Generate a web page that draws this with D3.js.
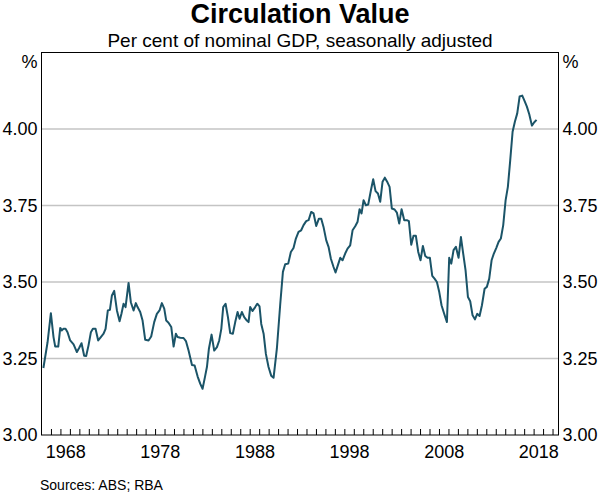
<!DOCTYPE html>
<html>
<head>
<meta charset="utf-8">
<script src="https://cdn.jsdelivr.net/npm/d3@7"></script>
<style>
  html, body { margin: 0; padding: 0; background: #fff; }
  svg { display: block; }
  text { font-family: "Liberation Sans", Arial, sans-serif; fill: #000; }
</style>
</head>
<body>
<svg id="chart" width="600" height="493"></svg>
<script>
// ---- Data ----
const dates = [
  1966.2, 1966.64, 1966.99, 1967.27, 1967.45, 1967.77, 1967.98, 1968.15, 1968.33, 1968.54,
  1968.75, 1969.03, 1969.39, 1969.74, 1969.99, 1970.23, 1970.51, 1970.72, 1970.97, 1971.22,
  1971.43, 1971.71, 1971.99, 1972.27, 1972.56, 1972.77, 1973.01, 1973.23, 1973.44, 1973.68,
  1973.97, 1974.25, 1974.46, 1974.67, 1974.88, 1975.2, 1975.44, 1975.73, 1975.97, 1976.15,
  1976.43, 1976.68, 1976.96, 1977.31, 1977.59, 1977.91, 1978.19, 1978.47, 1978.72, 1978.97,
  1979.18, 1979.42, 1979.71, 1979.96, 1980.2, 1980.38, 1980.66, 1981.01, 1981.26, 1981.54,
  1981.9, 1982.18, 1982.5, 1982.78, 1983.02, 1983.27, 1983.48, 1983.69, 1983.97, 1984.25,
  1984.54, 1984.78, 1985.0, 1985.2, 1985.45, 1985.7, 1985.94, 1986.22, 1986.47, 1986.72,
  1986.93, 1987.17, 1987.42, 1987.7, 1987.88, 1988.05, 1988.3, 1988.58, 1988.8, 1989.04,
  1989.22, 1989.47, 1989.71, 1989.99, 1990.27, 1990.52, 1990.87, 1991.23, 1991.51, 1991.75,
  1992.07, 1992.35, 1992.63, 1992.88, 1993.16, 1993.44, 1993.69, 1993.97, 1994.22, 1994.5,
  1994.75, 1995.03, 1995.31, 1995.56, 1995.8, 1996.09, 1996.33, 1996.58, 1996.86, 1997.07,
  1997.32, 1997.57, 1997.81, 1998.09, 1998.34, 1998.62, 1998.87, 1999.15, 1999.4, 1999.61,
  1999.82, 2000.03, 2000.28, 2000.52, 2000.81, 2001.05, 2001.3, 2001.55, 2001.79, 2002.04,
  2002.28, 2002.57, 2002.78, 2003.02, 2003.31, 2003.55, 2003.8, 2004.05, 2004.33, 2004.61,
  2004.82, 2005.07, 2005.31, 2005.56, 2005.81, 2006.05, 2006.3, 2006.55, 2006.79, 2007.04,
  2007.29, 2007.53, 2007.78, 2008.03, 2008.27, 2008.55, 2008.84, 2009.08, 2009.3, 2009.54,
  2009.79, 2010.07, 2010.32, 2010.56, 2010.81, 2011.06, 2011.3, 2011.55, 2011.8, 2012.04,
  2012.29, 2012.54, 2012.82, 2013.06, 2013.31, 2013.56, 2013.8, 2014.05, 2014.3, 2014.54,
  2014.79, 2015.04, 2015.28, 2015.53, 2015.78, 2016.02, 2016.27, 2016.52, 2016.8, 2017.04,
  2017.29, 2017.54, 2017.82, 2018.07, 2018.31
];
const values = [
  3.219, 3.303, 3.398, 3.320, 3.289, 3.289, 3.350, 3.342, 3.347, 3.347,
  3.336, 3.309, 3.296, 3.271, 3.285, 3.300, 3.259, 3.258, 3.293, 3.336,
  3.347, 3.347, 3.309, 3.320, 3.331, 3.347, 3.407, 3.409, 3.456, 3.471,
  3.407, 3.372, 3.398, 3.429, 3.418, 3.497, 3.434, 3.407, 3.431, 3.418,
  3.402, 3.374, 3.311, 3.309, 3.322, 3.369, 3.396, 3.407, 3.431, 3.413,
  3.374, 3.367, 3.353, 3.289, 3.331, 3.320, 3.318, 3.317, 3.307, 3.276,
  3.229, 3.227, 3.191, 3.167, 3.151, 3.189, 3.222, 3.282, 3.328, 3.276,
  3.287, 3.309, 3.347, 3.418, 3.429, 3.385, 3.333, 3.331, 3.369, 3.402,
  3.380, 3.402, 3.385, 3.374, 3.369, 3.418, 3.405, 3.418, 3.429, 3.420,
  3.363, 3.331, 3.265, 3.222, 3.194, 3.187, 3.282, 3.429, 3.533, 3.558,
  3.560, 3.598, 3.611, 3.642, 3.664, 3.669, 3.686, 3.699, 3.702, 3.729,
  3.724, 3.683, 3.707, 3.707, 3.680, 3.636, 3.615, 3.576, 3.549, 3.531,
  3.555, 3.579, 3.571, 3.593, 3.609, 3.620, 3.669, 3.682, 3.697, 3.738,
  3.724, 3.767, 3.751, 3.753, 3.800, 3.836, 3.797, 3.789, 3.762, 3.828,
  3.841, 3.825, 3.811, 3.740, 3.737, 3.727, 3.691, 3.738, 3.702, 3.702,
  3.699, 3.622, 3.651, 3.651, 3.598, 3.571, 3.618, 3.585, 3.579, 3.579,
  3.520, 3.511, 3.500, 3.467, 3.424, 3.396, 3.369, 3.579, 3.560, 3.604,
  3.615, 3.579, 3.647, 3.593, 3.538, 3.451, 3.437, 3.391, 3.378, 3.396,
  3.389, 3.424, 3.478, 3.484, 3.511, 3.571, 3.593, 3.611, 3.631, 3.642,
  3.686, 3.767, 3.811, 3.898, 3.991, 4.024, 4.051, 4.106, 4.109, 4.092,
  4.073, 4.048, 4.011, 4.022, 4.030
];
const yTickValues = [3.00, 3.25, 3.50, 3.75, 4.00];
const gridValues = [3.25, 3.50, 3.75, 4.00];
const xLabelYears = [1968, 1978, 1988, 1998, 2008, 2018];
const xTickYears = d3.range(1967, 2021);
const titleText = "Circulation Value";
const subtitleText = "Per cent of nominal GDP, seasonally adjusted";
const sourceText = "Sources: ABS; RBA";

// ---- Layout ----
const plotL = 41.5, plotR = 558.5, plotT = 52.5, plotB = 435;
const svg = d3.select("#chart");

const x = d3.scaleLinear().domain([1966, 2020.63]).range([plotL, plotR]);
const y = d3.scaleLinear().domain([3.0, 4.25]).range([plotB, plotT]);

// Gridlines
svg.append("g").selectAll("line").data(gridValues).join("line")
  .attr("x1", plotL).attr("x2", plotR)
  .attr("y1", d => y(d)).attr("y2", d => y(d))
  .attr("stroke", "#c4c4c4").attr("stroke-width", 1.3);

// Line
const line = d3.line().x((d, i) => x(dates[i])).y(d => y(d));
svg.append("path").datum(values)
  .attr("d", line)
  .attr("fill", "none")
  .attr("stroke", "#1b5468")
  .attr("stroke-width", 2)
  .attr("stroke-linejoin", "round");

// Frame
svg.append("rect")
  .attr("x", plotL).attr("y", plotT)
  .attr("width", plotR - plotL).attr("height", plotB - plotT)
  .attr("fill", "none").attr("stroke", "#000").attr("stroke-width", 1);

// X minor ticks (inside)
const xTickAxis = d3.axisBottom(x).tickValues(xTickYears).tickSize(-6).tickFormat("");
const gxt = svg.append("g").attr("transform", `translate(0,${plotB})`).call(xTickAxis);
gxt.select(".domain").remove();
gxt.selectAll(".tick line").attr("stroke", "#000");

// X labels (centred mid-year)
const xLabAxis = d3.axisBottom(x).tickValues(xLabelYears.map(d => d + 0.5))
  .tickSize(0).tickPadding(10).tickFormat(d => String(Math.floor(d)));
const gxl = svg.append("g").attr("transform", `translate(0,${plotB})`).call(xLabAxis);
gxl.select(".domain").remove();

// Y axes
const fmt = d3.format(".2f");
const yl = svg.append("g").attr("transform", `translate(${plotL},0)`)
  .call(d3.axisLeft(y).tickValues(yTickValues).tickSize(0).tickPadding(4).tickFormat(fmt));
yl.select(".domain").remove();
const yr = svg.append("g").attr("transform", `translate(${plotR},0)`)
  .call(d3.axisRight(y).tickValues(yTickValues).tickSize(0).tickPadding(4).tickFormat(fmt));
yr.select(".domain").remove();
svg.selectAll(".tick text").attr("font-size", 18).attr("font-family", "Liberation Sans, Arial, sans-serif").attr("fill", "#000");

// % unit labels
svg.append("text").attr("x", plotL - 4).attr("y", 68).attr("text-anchor", "end")
  .attr("font-size", 18).text("%");
svg.append("text").attr("x", plotR + 4).attr("y", 68).attr("text-anchor", "start")
  .attr("font-size", 18).text("%");

// Titles
svg.append("text").attr("x", 300).attr("y", 23).attr("text-anchor", "middle")
  .attr("font-size", 27).attr("font-weight", "bold").text(titleText);
svg.append("text").attr("x", 300).attr("y", 47).attr("text-anchor", "middle")
  .attr("font-size", 19).text(subtitleText);

// Source
svg.append("text").attr("x", 40).attr("y", 490).attr("text-anchor", "start")
  .attr("font-size", 14).text(sourceText);
</script>
</body>
</html>
